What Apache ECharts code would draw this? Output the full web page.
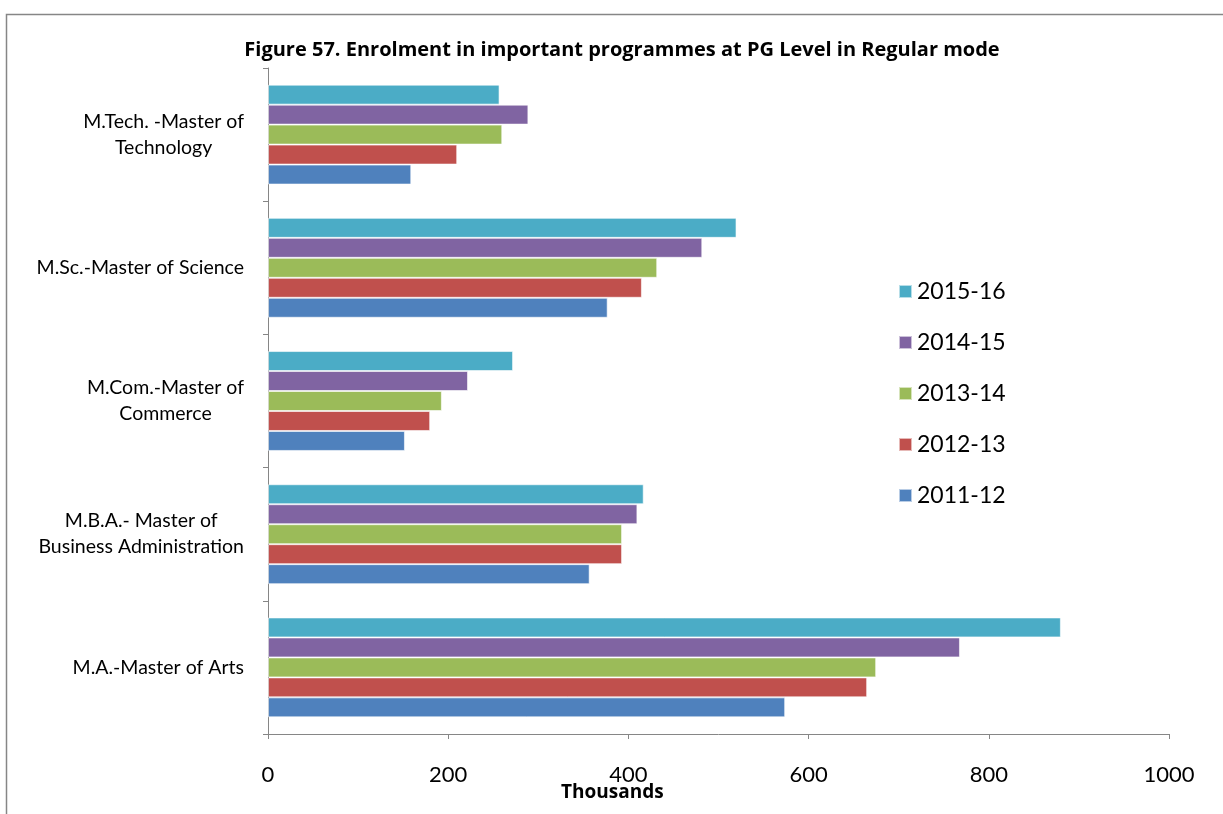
<!DOCTYPE html>
<html>
<head>
<meta charset="utf-8">
<script src="https://cdn.jsdelivr.net/npm/echarts@6/dist/echarts.min.js"></script>
<style>html,body{margin:0;padding:0;background:#fff;}#chart{width:1223px;height:814px;}</style>
</head>
<body>
<div id="chart"></div>
<script>
const categories = ['M.A.-Master of Arts', 'M.B.A.- Master of\nBusiness Administration', 'M.Com.-Master of\nCommerce', 'M.Sc.-Master of Science', 'M.Tech. -Master of\nTechnology'];
const seriesNames = ['2011-12', '2012-13', '2013-14', '2014-15', '2015-16'];
const v2011 = [574, 357, 152, 377, 159];
const v2012 = [665, 393, 180, 415, 210];
const v2013 = [675, 393, 193, 432, 260];
const v2014 = [768, 410, 222, 482, 289];
const v2015 = [880, 417, 272, 520, 257];
const xTicks = [0, 200, 400, 600, 800, 1000];
const colors = ['#4F81BD', '#C0504D', '#9BBB59', '#8064A2', '#4BACC6'];

const allValues = [v2011, v2012, v2013, v2014, v2015];
const FONT = 'Lato, "Open Sans", sans-serif';
const chart = echarts.init(document.getElementById('chart'));
// ECharts draws the first series at the top of each band on a vertical category axis,
// so series are added from the newest year to the oldest.
const order = [4, 3, 2, 1, 0];
chart.setOption({
  animation: false,
  textStyle: { fontFamily: FONT },
  title: {
    text: 'Figure 57. Enrolment in important programmes at PG Level in Regular mode',
    left: 617, top: 35, textAlign: 'center',
    textStyle: { fontSize: 20, fontWeight: 'bold', color: '#000', fontFamily: '"Open Sans", sans-serif' }
  },
  legend: {
    orient: 'vertical', left: 893, top: 275,
    data: seriesNames.slice().reverse(),
    itemWidth: 13, itemHeight: 13, itemGap: 28,
    icon: 'rect',
    textStyle: { fontSize: 23, color: '#000', fontFamily: FONT }
  },
  grid: { left: 268, right: 54, top: 68, bottom: 80, containLabel: false },
  xAxis: {
    type: 'value', min: xTicks[0], max: xTicks[xTicks.length - 1], interval: 200,
    axisLine: { show: true, lineStyle: { color: '#868686', width: 1 } },
    axisTick: { show: true, length: 5, lineStyle: { color: '#868686' } },
    splitLine: { show: false },
    axisLabel: { fontSize: 22, color: '#000', margin: 30, fontFamily: FONT, formatter: function (v) { return String(v); } }
  },
  yAxis: {
    type: 'category', data: categories,
    axisLine: { show: true, lineStyle: { color: '#868686', width: 1 } },
    axisTick: { show: true, length: 5, lineStyle: { color: '#868686' } },
    axisLabel: {
      fontSize: 19.5, color: '#000', margin: 24, align: 'right', lineHeight: 26,
      formatter: function (v) { return v.split('\n').map(function (s) { return '{c|' + s + '}'; }).join('\n'); },
      rich: { c: { align: 'center', fontSize: 19.5, lineHeight: 26, color: '#000', fontFamily: FONT } }
    }
  },
  graphic: [
    { type: 'rect', left: 4, top: 12, shape: { width: 1400, height: 1000 }, style: { fill: 'none', stroke: '#868686', lineWidth: 1.5 }, silent: true },
    { type: 'text', left: 561, top: 783, style: { text: 'Thousands', font: 'bold 19px "Open Sans", sans-serif', fill: '#000' } }
  ],
  series: order.map(function (i) {
    return {
      name: seriesNames[i], type: 'bar', data: allValues[i],
      barGap: '0%', barCategoryGap: '25%',
      itemStyle: { color: colors[i], borderColor: 'rgba(255,255,255,0.6)', borderWidth: 1 }
    };
  })
});
</script>
</body>
</html>
